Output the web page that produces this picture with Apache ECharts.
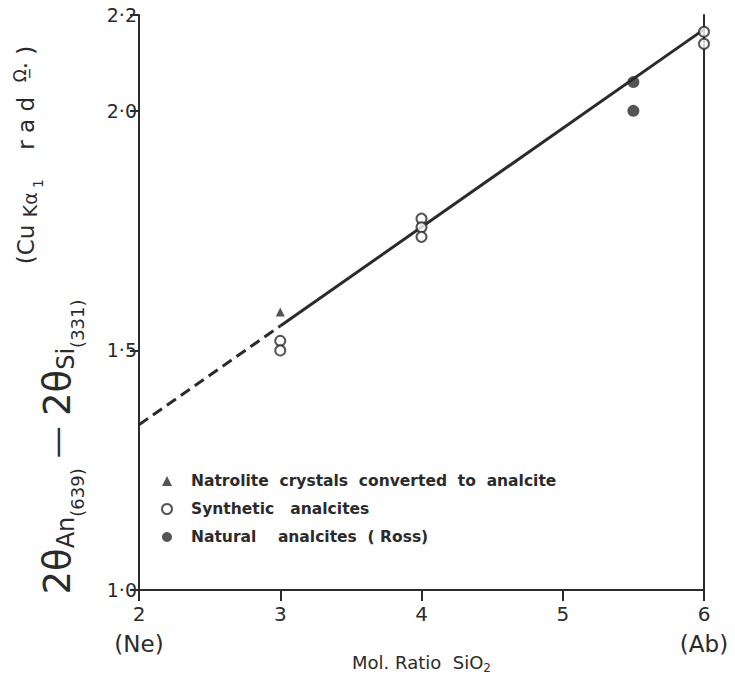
<!DOCTYPE html>
<html>
<head>
<meta charset="utf-8">
<script src="https://cdn.jsdelivr.net/npm/echarts@6/dist/echarts.min.js"></script>
<style>
html, body { margin: 0; padding: 0; background: #fff; }
#main { width: 735px; height: 681px; }
</style>
</head>
<body>
<div id="main"></div>
<script>
// values
var xTicks = [2, 3, 4, 5, 6];
var xSubLabels = { 2: '(Ne)', 6: '(Ab)' };
var yTicks = [1.0, 1.5, 2.0, 2.2];

var natrolite = [[3, 1.58]];
var synthetic = [[3, 1.52], [3, 1.50], [4, 1.775], [4, 1.757], [4, 1.737], [6, 2.165], [6, 2.14]];
var natural = [[5.5, 2.06], [5.5, 2.0]];
var fitDashed = [[2, 1.345], [3, 1.551]];
var fitSolid = [[3, 1.551], [6, 2.17]];

var legendNames = [
    'Natrolite  crystals  converted  to  analcite',
    'Synthetic   analcites',
    'Natural    analcites  ( Ross)'
];

var ink = '#2b2b2b';
var font = 'DejaVu Sans';

var chartDom = document.getElementById('main');
var myChart = echarts.init(chartDom, null, { renderer: 'svg' });
var option;

option = {
    backgroundColor: '#fff',
    animation: false,
    textStyle: { fontFamily: font, color: ink },
    grid: {
        left: 139,
        right: 31,
        top: 15,
        bottom: 91,
        outerBoundsMode: 'none'
    },
    legend: {
        orient: 'vertical',
        left: 156,
        top: 468,
        itemWidth: 10,
        itemHeight: 10,
        itemGap: 12,
        textStyle: {
            fontFamily: font,
            fontWeight: 'bold',
            fontSize: 15.5,
            color: ink,
            padding: [0, 0, 0, 14]
        },
        data: [
            { name: legendNames[0], icon: 'triangle' },
            { name: legendNames[1] },
            { name: legendNames[2] }
        ]
    },
    xAxis: {
        type: 'value',
        min: 2,
        max: 6,
        interval: 1,
        splitLine: { show: false },
        axisLine: { show: true, onZero: false, lineStyle: { color: ink, width: 2 } },
        axisTick: { show: true, length: 11, lineStyle: { color: ink, width: 2 } },
        axisLabel: {
            margin: 12,
            formatter: function (v) {
                if (xSubLabels[v]) return '{n|' + v + '}\n{p|' + xSubLabels[v] + '}';
                return '{n|' + v + '}';
            },
            rich: {
                n: { fontFamily: font, fontSize: 20, color: ink, lineHeight: 24 },
                p: { fontFamily: font, fontSize: 23, color: ink, lineHeight: 36 }
            }
        },
        name: '{t|Mol. Ratio  SiO}{s|2}',
        nameLocation: 'middle',
        nameGap: 60,
        nameMoveOverlap: false,
        nameTextStyle: {
            rich: {
                t: { fontFamily: font, fontSize: 18, color: ink, lineHeight: 24 },
                s: { fontFamily: font, fontSize: 12, color: ink, verticalAlign: 'bottom', lineHeight: 14 }
            }
        }
    },
    yAxis: [
        {
            type: 'value',
            min: 1.0,
            max: 2.2,
            splitLine: { show: false },
            axisLine: { show: true, onZero: false, lineStyle: { color: ink, width: 2 } },
            axisTick: { show: true, length: 9, customValues: yTicks, lineStyle: { color: ink, width: 2 } },
            axisLabel: {
                margin: 2,
                fontFamily: font,
                fontSize: 19,
                color: ink,
                customValues: yTicks,
                formatter: function (v) { return v.toFixed(1).replace('.', '\u00b7'); }
            }
        },
        {
            type: 'value',
            position: 'right',
            min: 1.0,
            max: 2.2,
            splitLine: { show: false },
            axisLine: { show: true, onZero: false, lineStyle: { color: ink, width: 2 } },
            axisTick: { show: false },
            axisLabel: { show: false }
        }
    ],
    graphic: [
        {
            type: 'text',
            x: 57,
            y: 447,
            rotation: Math.PI / 2,
            style: {
                text: '{b|2\u03b8}{s|An}{ss|(639)}{d| \u2014 }{b|2\u03b8}{s|Si}{ss|(331)}',
                align: 'center',
                verticalAlign: 'middle',
                rich: {
                    b: { fontFamily: font, fontSize: 37, fill: ink, lineHeight: 58 },
                    d: { fontFamily: font, fontSize: 32, fill: ink, lineHeight: 58 },
                    s: { fontFamily: font, fontSize: 24, fill: ink, verticalAlign: 'bottom', lineHeight: 24, padding: [0, 0, 8, 0] },
                    ss: { fontFamily: font, fontSize: 18, fill: ink, verticalAlign: 'bottom', lineHeight: 18 }
                }
            }
        },
        {
            type: 'text',
            x: 26,
            y: 155,
            rotation: Math.PI / 2,
            style: {
                text: '{u|(Cu }{k|K\u03b1}{o| 1}{u|    r a d  }{w|\u03a9\u0332}{u|\u00b7 )}',
                align: 'center',
                verticalAlign: 'middle',
                rich: {
                    u: { fontFamily: font, fontSize: 23, fill: ink, lineHeight: 38 },
                    k: { fontFamily: font, fontSize: 19, fill: ink, verticalAlign: 'bottom', lineHeight: 19, padding: [0, 0, 6, 0] },
                    o: { fontFamily: font, fontSize: 14, fill: ink, verticalAlign: 'bottom', lineHeight: 14 },
                    w: { fontFamily: font, fontSize: 17, fill: ink, verticalAlign: 'top', lineHeight: 17, padding: [4, 0, 0, 0] }
                }
            }
        }
    ],
    series: [
        {
            name: 'fit-dashed',
            type: 'line',
            data: fitDashed,
            symbol: 'none',
            silent: true,
            z: 1,
            lineStyle: { color: ink, width: 3, type: [11, 6] }
        },
        {
            name: 'fit-solid',
            type: 'line',
            data: fitSolid,
            symbol: 'none',
            silent: true,
            z: 1,
            lineStyle: { color: ink, width: 3 }
        },
        {
            name: legendNames[0],
            type: 'scatter',
            data: natrolite,
            symbol: 'triangle',
            symbolSize: 9,
            z: 3,
            itemStyle: { color: ink }
        },
        {
            name: legendNames[1],
            type: 'scatter',
            data: synthetic,
            symbol: 'circle',
            symbolSize: 10,
            z: 3,
            itemStyle: { color: '#fff', borderColor: ink, borderWidth: 2 }
        },
        {
            name: legendNames[2],
            type: 'scatter',
            data: natural,
            symbol: 'circle',
            symbolSize: 12,
            z: 3,
            itemStyle: { color: ink }
        }
    ]
};

option && myChart.setOption(option);
</script>
</body>
</html>
